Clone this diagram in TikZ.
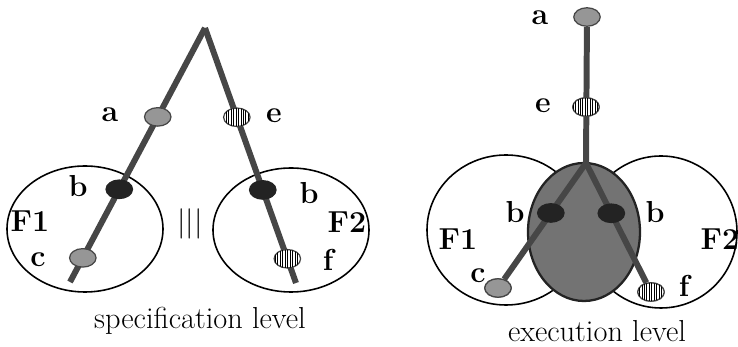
\documentclass[tikz,border=0pt]{standalone}
\usepackage{tikz}
\usetikzlibrary{positioning, shapes.geometric, patterns.meta}
\definecolor{Wire}{RGB}{70,70,70}
\definecolor{Tok}{RGB}{150,150,150}
\definecolor{Dark}{RGB}{35,35,35}
\definecolor{Shade}{RGB}{115,115,115}

\begin{document}
\begin{tikzpicture}[
  x=0.02cm, y=-0.02cm,
  wire/.style={line width=3.4pt, draw=Wire, line cap=butt},
  tok/.style={
    ellipse, draw=Wire, line width=0.7pt, inner sep=0pt,
    minimum width=0.53cm, minimum height=0.37cm
  },
  greytok/.style={tok, fill=Tok},
  darktok/.style={tok, fill=Dark, draw=Dark},
  stripetok/.style={tok, fill=white,
    postaction={pattern={Lines[angle=90, distance=1.4pt, line width=0.55pt]}}},
  frame/.style={draw=black, line width=0.9pt},
  lbl/.style={font=\LARGE\bfseries},
  levelcap/.style={font=\LARGE}
]
\useasboundingbox (0,0) rectangle (738,347);

%% ── Specification level (left) ──────────────────────────────────────────────
\draw[frame] (85,229) ellipse [x radius=78, y radius=63];
\draw[frame] (291,230) ellipse [x radius=78, y radius=62];

\coordinate (top)  at (205,28);
\coordinate (endL) at (70,282);
\coordinate (endR) at (296,283);
\draw[wire] (top) -- (endL);
\draw[wire] (top) -- (endR);

\path (top) -- (endL)
  node[greytok, pos=0.35]  (aL) {}
  node[darktok, pos=0.635] (bL) {}
  node[greytok, pos=0.905] (cL) {};
\path (top) -- (endR)
  node[stripetok, pos=0.35]  (eR) {}
  node[darktok,   pos=0.635] (bR) {}
  node[stripetok, pos=0.905] (fR) {};

\node[lbl] (la)  at (110,115) {a};
\node[lbl] (le)  at (274,116) {e};
\node[lbl] (lb1) at (78,186)  {b};
\node[lbl] (lb2) at (309,193) {b};
\node[lbl] (lF1) at (30,221)  {F1};
\node[lbl] (lF2) at (347,222) {F2};
\node[lbl] (lc)  at (38,260)  {c};
\node[lbl] (lf)  at (328,260) {f};
\node[font=\LARGE] (eqv) at (190,224) {$|||$};
\node[levelcap] (spec) at (200,321) {specification level};

%% ── Execution level (right) ─────────────────────────────────────────────────
\draw[frame] (506,230) ellipse [x radius=79, y radius=75];
\draw[frame] (661,232) ellipse [x radius=76, y radius=76];
\draw[fill=Shade, draw=Dark, line width=1.3pt] (584,232) ellipse [x radius=56, y radius=69];

\coordinate (join) at (586,163);
\node[greytok]   (aX) at (587,17)  {};
\node[stripetok] (eX) at (586,107) {};
\node[greytok]   (cX) at (498,288) {};
\node[stripetok] (fX) at (651,292) {};

\draw[wire] (aX) -- (join);
\draw[wire] (join) -- (cX);
\draw[wire] (join) -- (fX);
\node[stripetok] at (eX) {};
\node[greytok] at (cX) {};
\node[stripetok] at (fX) {};

\path (join) -- (cX) node[darktok, pos=0.43] (bX1) {};
\path (join) -- (fX) node[darktok, pos=0.42] (bX2) {};

\node[lbl] (xa)  at (540,18)  {a};
\node[lbl] (xe)  at (543,106) {e};
\node[lbl] (xb1) at (515,212) {b};
\node[lbl] (xb2) at (655,212) {b};
\node[lbl] (xF1) at (458,239) {F1};
\node[lbl] (xF2) at (720,239) {F2};
\node[lbl] (xc)  at (478,276) {c};
\node[lbl] (xf)  at (684,286) {f};
\node[levelcap] (exec) at (597,331) {execution level};

\end{tikzpicture}
\end{document}
